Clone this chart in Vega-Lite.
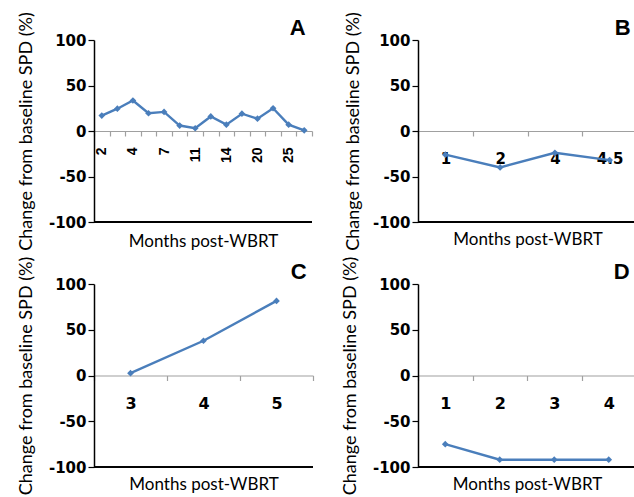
{
  "$schema": "https://vega.github.io/schema/vega-lite/v6.json",
  "padding": {"left": 17, "top": 11, "right": 0, "bottom": 0},
  "background": "white",
  "datasets": {
    "A": [
      {"visit": 1, "month": "2", "spd": 17},
      {"visit": 2, "month": "", "spd": 24.5},
      {"visit": 3, "month": "4", "spd": 33.5},
      {"visit": 4, "month": "", "spd": 19.5},
      {"visit": 5, "month": "7", "spd": 21},
      {"visit": 6, "month": "", "spd": 6},
      {"visit": 7, "month": "11", "spd": 3},
      {"visit": 8, "month": "", "spd": 16},
      {"visit": 9, "month": "14", "spd": 7},
      {"visit": 10, "month": "", "spd": 19},
      {"visit": 11, "month": "20", "spd": 13.5},
      {"visit": 12, "month": "", "spd": 25},
      {"visit": 13, "month": "25", "spd": 7},
      {"visit": 14, "month": "", "spd": 0.7}
    ],
    "B": [
      {"month": "1", "spd": -26},
      {"month": "2", "spd": -40},
      {"month": "4", "spd": -24},
      {"month": "4.5", "spd": -32}
    ],
    "C": [
      {"month": "3", "spd": 2.5},
      {"month": "4", "spd": 38},
      {"month": "5", "spd": 81.5}
    ],
    "D": [
      {"month": "1", "spd": -75},
      {"month": "2", "spd": -92},
      {"month": "3", "spd": -92},
      {"month": "4", "spd": -92}
    ]
  },
  "config": {
    "view": {"stroke": null},
    "axisY": {
      "domainColor": "black", "domainWidth": 1.5, "tickColor": "black", "tickSize": 6, "tickWidth": 1.2,
      "gridColor": "#a8a8a8", "gridWidth": 1,
      "labelFont": "DejaVu Sans", "labelFontWeight": "bold", "labelFontSize": 15, "labelColor": "black", "labelPadding": 2,
      "labelExpr": "replace(datum.label, '\u2212', '-')",
      "titleFont": "Lato", "titleFontWeight": "normal", "titleFontSize": 18, "titleColor": "black", "titlePadding": 13
    },
    "axisX": {
      "domainColor": "#a0a0a0", "domainWidth": 1.2, "tickColor": "#a0a0a0", "tickSize": 5, "tickWidth": 1.2, "grid": false,
      "labelFont": "DejaVu Sans", "labelFontWeight": "bold", "labelFontSize": 15, "labelColor": "black", "labelPadding": 15, "labelAngle": 0,
      "titleFont": "Lato", "titleFontWeight": "normal", "titleFontSize": 17, "titleColor": "black", "titlePadding": 65,
      "zindex": 1
    },
    "title": {"font": "Liberation Sans", "fontSize": 22, "fontWeight": "bold", "anchor": "end", "offset": -28, "dx": -7, "color": "black"}
  },
  "columns": 2,
  "bounds": "flush",
  "spacing": {"row": 62, "column": 105},
  "concat": [
    {
      "title": "A",
      "width": 218, "height": 182,
      "data": {"name": "A"},
      "layer": [
        {"mark": {"type": "rule", "color": "black", "strokeWidth": 1.5}, "encoding": {"y": {"datum": -100, "type": "quantitative", "scale": {"domain": [-100, 100]}}}},
        {
          "mark": {"type": "line", "color": "#4a7ebb", "strokeWidth": 2.4, "point": {"shape": "diamond", "filled": true, "size": 45, "color": "#4a7ebb"}},
          "encoding": {
            "x": {"field": "visit", "type": "ordinal", "sort": null, "bandPosition": 0.5,
              "scale": {"type": "band", "paddingInner": 0, "paddingOuter": 0},
              "axis": {"title": "Months post-WBRT", "offset": -91, "tickBand": "extent", "labelAngle": 270, "labelFont": "Liberation Sans", "labelFontSize": 14, "labelPadding": 11, "titlePadding": 71,
                "labelExpr": "datum.value % 2 == 1 ? ['2','4','7','11','14','20','25'][(datum.value - 1) / 2] : ''"}},
            "y": {"field": "spd", "type": "quantitative", "scale": {"domain": [-100, 100]},
              "axis": {"title": "Change from baseline SPD (%)", "values": [-100, -50, 0, 50, 100]}}
          }
        }
      ]
    },
    {
      "title": "B",
      "width": 219, "height": 182,
      "data": {"name": "B"},
      "layer": [
        {"mark": {"type": "rule", "color": "black", "strokeWidth": 1.5}, "encoding": {"y": {"datum": -100, "type": "quantitative", "scale": {"domain": [-100, 100]}}}},
        {
          "mark": {"type": "line", "color": "#4a7ebb", "strokeWidth": 2.4, "point": {"shape": "diamond", "filled": true, "size": 45, "color": "#4a7ebb"}},
          "encoding": {
            "x": {"field": "month", "type": "ordinal", "sort": null, "bandPosition": 0.5,
              "scale": {"type": "band", "paddingInner": 0, "paddingOuter": 0},
              "axis": {"title": "Months post-WBRT", "offset": -91, "tickBand": "extent"}},
            "y": {"field": "spd", "type": "quantitative", "scale": {"domain": [-100, 100]},
              "axis": {"title": "Change from baseline SPD (%)", "values": [-100, -50, 0, 50, 100], "titlePadding": 10}}
          }
        }
      ]
    },
    {
      "title": "C",
      "width": 219, "height": 183,
      "data": {"name": "C"},
      "layer": [
        {"mark": {"type": "rule", "color": "black", "strokeWidth": 1.5}, "encoding": {"y": {"datum": -100, "type": "quantitative", "scale": {"domain": [-100, 100]}}}},
        {
          "mark": {"type": "line", "color": "#4a7ebb", "strokeWidth": 2.4, "point": {"shape": "diamond", "filled": true, "size": 45, "color": "#4a7ebb"}},
          "encoding": {
            "x": {"field": "month", "type": "ordinal", "sort": null, "bandPosition": 0.5,
              "scale": {"type": "band", "paddingInner": 0, "paddingOuter": 0},
              "axis": {"title": "Months post-WBRT", "offset": -91.5, "tickBand": "extent", "labelFontSize": 16, "titlePadding": 65}},
            "y": {"field": "spd", "type": "quantitative", "scale": {"domain": [-100, 100]},
              "axis": {"title": "Change from baseline SPD (%)", "values": [-100, -50, 0, 50, 100]}}
          }
        }
      ]
    },
    {
      "title": "D",
      "width": 218, "height": 183,
      "data": {"name": "D"},
      "layer": [
        {"mark": {"type": "rule", "color": "black", "strokeWidth": 1.5}, "encoding": {"y": {"datum": -100, "type": "quantitative", "scale": {"domain": [-100, 100]}}}},
        {
          "mark": {"type": "line", "color": "#4a7ebb", "strokeWidth": 2.4, "point": {"shape": "diamond", "filled": true, "size": 45, "color": "#4a7ebb"}},
          "encoding": {
            "x": {"field": "month", "type": "ordinal", "sort": null, "bandPosition": 0.5,
              "scale": {"type": "band", "paddingInner": 0, "paddingOuter": 0},
              "axis": {"title": "Months post-WBRT", "offset": -91.5, "tickBand": "extent", "labelFontSize": 16, "titlePadding": 65}},
            "y": {"field": "spd", "type": "quantitative", "scale": {"domain": [-100, 100]},
              "axis": {"title": "Change from baseline SPD (%)", "values": [-100, -50, 0, 50, 100]}}
          }
        }
      ]
    }
  ]
}
